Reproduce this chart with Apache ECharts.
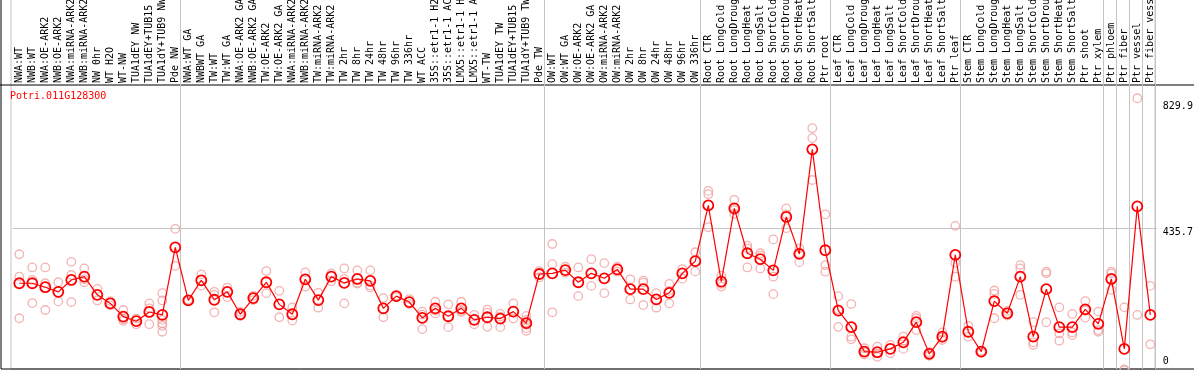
<!DOCTYPE html>
<html><head><meta charset="utf-8">
<script src="https://cdn.jsdelivr.net/npm/echarts@6/dist/echarts.min.js"></script>
<style>html,body{margin:0;padding:0;background:#fff}#c{width:1194px;height:370px}</style>
</head><body><div id="c"></div>
<script>
const chartTitle = 'Potri.011G128300';
const categories = [
  'NWA:WT','NWB:WT','NWA:OE-ARK2','NWB:OE-ARK2','NWA:miRNA-ARK2','NWB:miRNA-ARK2','NW 0hr','WT H2O','WT-NW','TUA1dEY NW','TUA1dEY+TUB15 NW','TUA1dY+TUB9 NW','Pde NW',
  'NWA:WT GA','NWBWT GA','TW:WT','TW:WT GA','NWA:OE-ARK2 GA','NWB:OE-ARK2 GA','TW:OE-ARK2','TW:OE-ARK2 GA','NWA:miRNA-ARK2','NWB:miRNA-ARK2','TW:miRNA-ARK2','TW:miRNA-ARK2','TW 2hr','TW 8hr','TW 24hr','TW 48hr','TW 96hr','TW 336hr','WT ACC','35S::etr1-1 H2O','35S::etr1-1 ACC','LMX5::etr1-1 H2O','LMX5::etr1-1 ACC','WT-TW','TUA1dEY TW','TUA1dEY+TUB15 TW','TUA1dY+TUB9 TW','Pde TW',
  'OW:WT','OW:WT GA','OW:OE-ARK2','OW:OE-ARK2 GA','OW:miRNA-ARK2','OW:miRNA-ARK2','OW 2hr','OW 8hr','OW 24hr','OW 48hr','OW 96hr','OW 336hr',
  'Root CTR','Root LongCold','Root LongDrought','Root LongHeat','Root LongSalt','Root ShortCold','Root ShortDrought','Root ShortHeat','Root ShortSalt','Ptr root',
  'Leaf CTR','Leaf LongCold','Leaf LongDrought','Leaf LongHeat','Leaf LongSalt','Leaf ShortCold','Leaf ShortDrought','Leaf ShortHeat','Leaf ShortSalt','Ptr leaf',
  'Stem CTR','Stem LongCold','Stem LongDrought','Stem LongHeat','Stem LongSalt','Stem ShortCold','Stem ShortDrought','Stem ShortHeat','Stem ShortSalt','Ptr shoot','Ptr xylem',
  'Ptr phloem','Ptr fiber','Ptr vessel','Ptr fiber vessel'
];
const groupStarts = [13, 41, 53, 63, 73, 84, 85, 86, 87];
const means = [
  269,269,257,243,279,289,234,208,168,154,182,173,378,
  217,278,219,243,175,224,272,205,175,281,218,289,270,282,276,193,230,212,164,193,169,193,158,166,162,183,148,297,
  299,309,272,299,284,311,251,251,220,240,299,336,
  505,274,496,360,342,308,470,358,675,369,
  186,136,62,60,70,90,151,55,107,355,
  122,62,215,178,289,107,251,136,136,190,146,
  282,70,502,173
];
const replicates = [
  [357,289,163],[317,279,209],[317,269,188],[272,214],[334,294,212],[314,281,272],[252,217],[215,202],[188,160,155],[162,145],[208,193,145],[239,217,158,148,140,122],[434,322],
  [219,216],[296,262],[243,234,181],[256,227],[182,170],[231,218],[306,239],[246,166],[196,156],[302,259],[240,195],[299,275],[314,282,208],[308,270,268],[308,262,256],[224,166],[232,227],[221,206],[183,174,130],[213,186,177],[205,136],[213,185,182],[173,145],[189,180,137],[176,168,136],[208,162],[170,158,143,133,125],[306,287],
  [388,327,181],[319,301],[317,230],[342,261],[330,239],[319,304],[281,220],[277,271,203],[239,195],[267,246,208],[312,283],[363,305],
  [549,539,439],[292,267,259],[522,491,479],[383,375,317],[360,353,314],[402,289,236],[496,478,436],[375,360,333],[739,709,582],[478,324,304],
  [230,190,137],[206,107,99],[72,60,53],[77,56,46],[82,57],[107,95,70],[170,163,127],[60,55,49],[120,104,97],[443,331,289],
  [140,107],[64,59],[247,237,163],[185,171],[324,314,234],[151,90,82],[304,299,151],[196,117,95],[176,120,112],[215,186,165],[183,127,122],
  [304,299,249],[196,8,5],[829.9,173],[261,84]
];
const yTicks = [0, 435.7, 829.9];
const yTickLabels = ['0', '435.7', '829.9'];
const yGridValues = [435.7];
const yMax = 870;

const MONO = '"DejaVu Sans Mono", "Liberation Mono", monospace';
const chart = echarts.init(document.getElementById('c'), null, {renderer: 'canvas'});

const repData = [];
replicates.forEach((arr, i) => arr.forEach(v => repData.push([i, v])));
const meanData = means.map((v, i) => [i, v]);

const hiddenX = (g) => ({gridIndex: g, type: 'value', show: false, min: 0, max: 1});
const hiddenY = (g) => ({gridIndex: g, type: 'value', show: false, min: 0, max: 1});

const option = {
  animation: false,
  backgroundColor: '#fff',
  title: {
    text: chartTitle, left: 10, top: 91, padding: 0,
    textStyle: {color: '#ff0000', fontFamily: MONO, fontSize: 10, fontWeight: 'normal'}
  },
  grid: [
    {left: 11, width: 1144, top: -3, bottom: 1, show: true, borderColor: '#c4c4c4', borderWidth: 1, backgroundColor: 'transparent', containLabel: false, outerBoundsMode: 'none'},
    {left: 12.8, width: 1144, top: 0, height: 85, containLabel: false, outerBoundsMode: 'none'},
    {left: 12.8, width: 1144, top: 85, bottom: -2, containLabel: false, outerBoundsMode: 'none'},
    {left: -10, right: -10, top: 85, bottom: -10, show: true, borderColor: '#000', borderWidth: 1, backgroundColor: 'transparent', containLabel: false, outerBoundsMode: 'none'},
    {left: 1, right: -10, top: -10, bottom: 1, show: true, borderColor: '#000', borderWidth: 1, backgroundColor: 'transparent', containLabel: false, outerBoundsMode: 'none'}
  ],
  xAxis: [
    {gridIndex: 0, type: 'category', data: categories, boundaryGap: true,
     axisLine: {show: false}, axisTick: {show: false}, axisLabel: {show: false},
     splitLine: {show: true, interval: (i) => groupStarts.indexOf(i) >= 0, lineStyle: {color: '#c4c4c4', width: 1}}},
    {gridIndex: 1, type: 'category', data: categories, boundaryGap: true, position: 'bottom',
     axisLine: {show: false}, axisTick: {show: false}, splitLine: {show: false},
     axisLabel: {show: true, inside: true, rotate: 90, interval: 0, margin: 2, hideOverlap: false,
       fontFamily: MONO, fontSize: 10, color: '#000'}},
    {gridIndex: 2, type: 'category', data: categories, boundaryGap: true, show: false},
    hiddenX(3), hiddenX(4)
  ],
  yAxis: [
    hiddenY(0), hiddenY(1),
    {gridIndex: 2, type: 'value', position: 'right', min: 0, max: yMax,
     axisLine: {show: false}, axisTick: {show: false, customValues: yGridValues},
     splitLine: {show: true, lineStyle: {color: '#c4c4c4', width: 1}},
     axisLabel: {show: true, customValues: yTicks, margin: 6, fontFamily: MONO, fontSize: 10, color: '#000',
       formatter: (v) => { const k = yTicks.indexOf(v); return '{t' + k + '|' + yTickLabels[k] + '}'; },
       rich: {
         t0: {fontFamily: MONO, fontSize: 10, color: '#000', padding: [0, 0, 21, 0]},
         t1: {fontFamily: MONO, fontSize: 10, color: '#000', padding: [8, 0, 0, 0]},
         t2: {fontFamily: MONO, fontSize: 10, color: '#000', padding: [17, 0, 0, 0]}
       }}},
    hiddenY(3), hiddenY(4)
  ],
  series: [
    {type: 'scatter', xAxisIndex: 2, yAxisIndex: 2, data: repData, symbol: 'circle', symbolSize: 8.5,
     itemStyle: {color: 'rgba(0,0,0,0)', borderColor: '#f0a0a0', borderWidth: 1.3}, z: 2, silent: true},
    {type: 'line', xAxisIndex: 2, yAxisIndex: 2, data: meanData, symbol: 'circle', symbolSize: 10, showAllSymbol: true,
     lineStyle: {color: '#ff0000', width: 1.2}, itemStyle: {color: 'rgba(0,0,0,0)', borderColor: '#ff0000', borderWidth: 1.8},
     z: 3, silent: true}
  ]
};
chart.setOption(option);
</script>
</body></html>
